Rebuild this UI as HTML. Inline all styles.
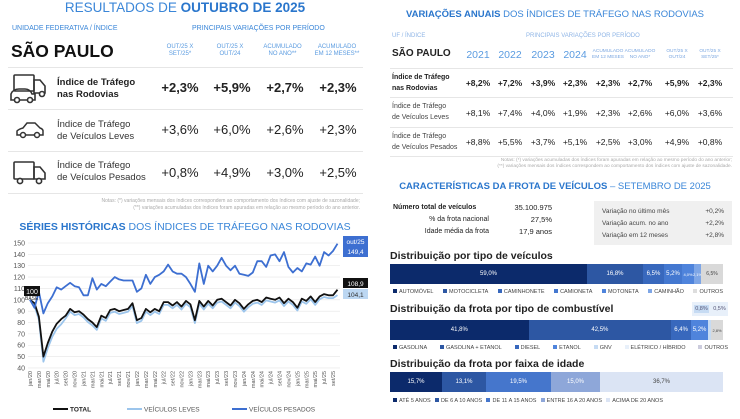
<!DOCTYPE html>
<html><head><meta charset="utf-8"><style>
*{margin:0;padding:0;box-sizing:border-box}
body{width:740px;height:419px;background:#fff;font-family:"Liberation Sans",sans-serif;position:relative;overflow:hidden;color:#222}
.a{position:absolute;white-space:nowrap}
.b{color:#3a86d8}
.sm{font-size:6px;color:#5a9be0;text-align:center;line-height:7px}
.hr{position:absolute;height:1px;background:#e6e6e6}
.v{position:absolute;font-size:13px;width:50px;text-align:center}
.rv{position:absolute;font-size:8.5px;width:32px;text-align:center}
.bar{position:absolute;height:20px;display:flex}
.bar div{height:100%;color:#fff;font-size:6px;display:flex;align-items:center;justify-content:center}
.lg{position:absolute;font-size:5.5px;color:#444;display:flex;justify-content:space-between}
.lg span:before{content:"";display:inline-block;width:4px;height:4px;margin-right:2px;background:var(--c)}
.t{font-size:10.5px;font-weight:bold;color:#222}
.yr{position:absolute;top:49px;width:34px;text-align:center;font-size:10.5px;color:#5a9be0}
.sh{position:absolute;top:49px;width:38px;text-align:center;font-size:4.8px;line-height:6px;color:#7aa6e0}
</style></head><body>
<!-- LEFT TOP -->
<div class="a b" style="left:0;width:370px;text-align:center;top:0;font-size:13.5px">RESULTADOS DE <b style="color:#2a76cc">OUTUBRO DE 2025</b></div>
<div class="a b" style="left:12px;top:25px;font-size:7px">UNIDADE FEDERATIVA / ÍNDICE</div>
<div class="a b" style="left:192px;top:25px;font-size:7px">PRINCIPAIS VARIAÇÕES POR PERÍODO</div>
<div class="a" style="left:11px;top:41px;font-size:17.5px;font-weight:bold;color:#111">SÃO PAULO</div>
<div class="a sm" style="left:155px;top:44px;width:50px">OUT/25 X<br>SET/25*</div>
<div class="a sm" style="left:205px;top:44px;width:50px">OUT/25 X<br>OUT/24</div>
<div class="a sm" style="left:255px;top:44px;width:55px">ACUMULADO<br>NO ANO**</div>
<div class="a sm" style="left:308px;top:44px;width:58px">ACUMULADO<br>EM 12 MESES**</div>
<div class="hr" style="left:8px;width:355px;top:67px"></div>
<div class="hr" style="left:8px;width:355px;top:109px"></div>
<div class="hr" style="left:8px;width:355px;top:151px"></div>
<div class="hr" style="left:8px;width:355px;top:193px"></div>
<svg class="a" style="left:8px;top:72px" width="42" height="32" viewBox="0 0 42 32" fill="none" stroke="#333" stroke-width="1.6"><rect x="6" y="3" width="20" height="16" rx="1"/><path d="M26 8h6l5 6v7h-11z"/><path d="M3 28v-6q2-5 8-5h6q5 0 7 5h3v6z"/><circle cx="9" cy="28" r="2.5" fill="#fff"/><circle cx="22" cy="28" r="2.5" fill="#fff"/><circle cx="34" cy="22" r="2.5" fill="#fff"/></svg>
<svg class="a" style="left:15px;top:120px" width="30" height="20" viewBox="0 0 30 20" fill="none" stroke="#333" stroke-width="1.5"><path d="M2 15v-4q2-2 6-3l4-5h8l5 5q3 1 3 3v4z"/><circle cx="8" cy="15" r="2.5" fill="#fff"/><circle cx="22" cy="15" r="2.5" fill="#fff"/></svg>
<svg class="a" style="left:12px;top:160px" width="36" height="26" viewBox="0 0 36 26" fill="none" stroke="#333" stroke-width="1.6"><rect x="2" y="2" width="20" height="17" rx="1"/><path d="M22 7h6l5 6v6h-11z"/><circle cx="8" cy="21" r="2.6" fill="#fff"/><circle cx="27" cy="21" r="2.6" fill="#fff"/></svg>
<div class="a" style="left:57px;top:77px;font-size:9.5px;font-weight:bold;line-height:12px">Índice de Tráfego<br>nas Rodovias</div>
<div class="a" style="left:57px;top:119px;font-size:9.5px;line-height:12px;color:#333">Índice de Tráfego<br>de Veículos Leves</div>
<div class="a" style="left:57px;top:160px;font-size:9.5px;line-height:12px;color:#333">Índice de Tráfego<br>de Veículos Pesados</div>
<div class="v" style="left:155px;top:80px;font-weight:bold">+2,3%</div><div class="v" style="left:207px;top:80px;font-weight:bold">+5,9%</div><div class="v" style="left:260px;top:80px;font-weight:bold">+2,7%</div><div class="v" style="left:313px;top:80px;font-weight:bold">+2,3%</div>
<div class="v" style="left:155px;top:122px">+3,6%</div><div class="v" style="left:207px;top:122px">+6,0%</div><div class="v" style="left:260px;top:122px">+2,6%</div><div class="v" style="left:313px;top:122px">+2,3%</div>
<div class="v" style="left:155px;top:165px">+0,8%</div><div class="v" style="left:207px;top:165px">+4,9%</div><div class="v" style="left:260px;top:165px">+3,0%</div><div class="v" style="left:313px;top:165px">+2,5%</div>
<div class="a" style="right:380px;top:198px;font-size:5px;color:#aaa;text-align:right;line-height:7px">Notas: (*) variações mensais dos índices correspondem ao comportamento dos índices com ajuste de sazonalidade;<br>(**) variações acumuladas dos índices foram apuradas em relação ao mesmo período do ano anterior.</div>
<!-- CHART -->
<div class="a b" style="left:0;width:370px;text-align:center;top:221px;font-size:10.5px"><b style="color:#2a76cc">SÉRIES HISTÓRICAS</b> DOS ÍNDICES DE TRÁFEGO NAS RODOVIAS</div>
<svg id="ch" class="a" style="left:0;top:230px" width="370" height="189"></svg>
<!-- RIGHT -->
<div class="a b" style="left:370px;width:370px;text-align:center;top:9px;font-size:9.5px"><b style="color:#2a76cc">VARIAÇÕES ANUAIS</b> DOS ÍNDICES DE TRÁFEGO NAS RODOVIAS</div>
<div class="a" style="left:392px;top:33px;font-size:6px;color:#8fb5e6">UF / ÍNDICE</div>
<div class="a" style="left:526px;top:33px;font-size:6px;color:#8fb5e6">PRINCIPAIS VARIAÇÕES POR PERÍODO</div>
<div class="a" style="left:392px;top:48px;font-size:10px;font-weight:bold;color:#222">SÃO PAULO</div>
<div class="yr" style="left:461px">2021</div><div class="yr" style="left:493px">2022</div><div class="yr" style="left:526px">2023</div><div class="yr" style="left:558px">2024</div>
<div class="sh" style="left:589px">ACUMULADO<br>EM 12 MESES</div><div class="sh" style="left:621px">ACUMULADO<br>NO ANO*</div><div class="sh" style="left:658px">OUT/25 X<br>OUT/24</div><div class="sh" style="left:691px">OUT/25 X<br>SET/25*</div>
<div class="hr" style="left:390px;width:343px;top:68px"></div><div class="hr" style="left:390px;width:343px;top:97px"></div><div class="hr" style="left:390px;width:343px;top:127px"></div><div class="hr" style="left:390px;width:343px;top:156px"></div>
<div class="a" style="left:392px;top:72px;font-size:7px;font-weight:bold;line-height:11px">Índice de Tráfego<br>nas Rodovias</div>
<div class="a" style="left:392px;top:101px;font-size:7px;line-height:11px;color:#444">Índice de Tráfego<br>de Veículos Leves</div>
<div class="a" style="left:392px;top:131px;font-size:7px;line-height:11px;color:#444">Índice de Tráfego<br>de Veículos Pesados</div>
<div id="rt"></div>
<div class="a" style="right:8px;top:158px;font-size:4.8px;color:#aaa;text-align:right;line-height:6px">Notas: (*) variações acumuladas dos índices foram apuradas em relação ao mesmo período do ano anterior;<br>(**) variações mensais dos índices correspondem ao comportamento dos índices com ajuste de sazonalidade.</div>
<div class="a b" style="left:370px;width:370px;text-align:center;top:181px;font-size:9.5px"><b style="color:#2a76cc">CARACTERÍSTICAS DA FROTA DE VEÍCULOS</b> – SETEMBRO DE 2025</div>
<div class="a" style="left:393px;top:204px;font-size:7px;font-weight:bold">Número total de veículos</div>
<div class="a" style="left:393px;top:216px;width:96px;text-align:right;font-size:7px">% da frota nacional</div>
<div class="a" style="left:393px;top:228px;width:96px;text-align:right;font-size:7px">Idade média da frota</div>
<div class="a" style="left:496px;top:203px;width:56px;text-align:right;font-size:7.5px">35.100.975</div>
<div class="a" style="left:496px;top:215px;width:56px;text-align:right;font-size:7.5px">27,5%</div>
<div class="a" style="left:496px;top:227px;width:56px;text-align:right;font-size:7.5px">17,9 anos</div>
<div class="a" style="left:594px;top:201px;width:138px;height:44px;background:#f0f0f0;font-size:6.5px;color:#444;padding:5px 8px;line-height:12px">Variação no último mês<span style="float:right">+0,2%</span><br>Variação acum. no ano<span style="float:right">+2,2%</span><br>Variação em 12 meses<span style="float:right">+2,8%</span></div>
<div class="a t" style="left:390px;top:250px">Distribuição por tipo de veículos</div>
<div class="bar" style="left:390px;top:264px;width:333px"><div style="width:197px;background:#0c2a6b">59,0%</div><div style="width:56px;background:#2d57a3">16,8%</div><div style="width:21px;background:#3868bd">6,5%</div><div style="width:18px;background:#4478d0">5,2%</div><div style="width:12px;background:#4f84dc;font-size:4px">4,0%</div><div style="width:7px;background:#7ea6e6;font-size:4px">2,1%</div><div style="width:22px;background:#d9d9d9;color:#444;font-size:5px">6,5%</div></div>
<div class="lg" style="left:393px;top:289px;width:330px"><span style="--c:#0c2a6b">AUTOMÓVEL</span><span style="--c:#2d57a3">MOTOCICLETA</span><span style="--c:#3868bd">CAMINHONETE</span><span style="--c:#4478d0">CAMIONETA</span><span style="--c:#4f84dc">MOTONETA</span><span style="--c:#7ea6e6">CAMINHÃO</span><span style="--c:#ddd">OUTROS</span></div>
<div class="a t" style="left:390px;top:303px">Distribuição da frota por tipo de combustível</div>
<div class="a" style="left:692px;top:302px;width:36px;height:14px;background:#e8f0fa;font-size:5.5px;color:#557;display:flex;align-items:center;justify-content:space-around"><span style="background:#c6dbf3;padding:1px">0,8%</span><span>0,5%</span></div>
<div class="bar" style="left:390px;top:320px;width:333px"><div style="width:139px;background:#0c2a6b">41,8%</div><div style="width:143px;background:#2d57a3">42,5%</div><div style="width:20px;background:#3868bd">6,4%</div><div style="width:17px;background:#4f84dc">5,2%</div><div style="width:3px;background:#c6dbf3"></div><div style="width:12px;background:#d9d9d9;color:#444;font-size:4px">2,8%</div></div>
<div class="lg" style="left:393px;top:345px;width:335px"><span style="--c:#0c2a6b">GASOLINA</span><span style="--c:#2d57a3">GASOLINA + ETANOL</span><span style="--c:#3868bd">DIESEL</span><span style="--c:#4f84dc">ETANOL</span><span style="--c:#c6dbf3">GNV</span><span style="--c:#e8f0fa">ELÉTRICO / HÍBRIDO</span><span style="--c:#ccd">OUTROS</span></div>
<div class="a t" style="left:390px;top:358px">Distribuição da frota por faixa de idade</div>
<div class="bar" style="left:390px;top:372px;width:333px"><div style="width:52px;background:#0c2a6b">15,7%</div><div style="width:44px;background:#2d57a3">13,1%</div><div style="width:65px;background:#4576cc">19,5%</div><div style="width:49px;background:#8ea7d9">15,0%</div><div style="width:123px;background:#dbe4f4;color:#444">36,7%</div></div>
<div class="lg" style="left:393px;top:398px;width:270px"><span style="--c:#0c2a6b">ATÉ 5 ANOS</span><span style="--c:#2d57a3">DE 6 A 10 ANOS</span><span style="--c:#4576cc">DE 11 A 15 ANOS</span><span style="--c:#8ea7d9">ENTRE 16 A 20 ANOS</span><span style="--c:#dbe4f4">ACIMA DE 20 ANOS</span></div>
<script>
var rows=[["+8,2%","+7,2%","+3,9%","+2,3%","+2,3%","+2,7%","+5,9%","+2,3%"],["+8,1%","+7,4%","+4,0%","+1,9%","+2,3%","+2,6%","+6,0%","+3,6%"],["+8,8%","+5,5%","+3,7%","+5,1%","+2,5%","+3,0%","+4,9%","+0,8%"]];
var xs=[478,510,543,575,608,640,677,710],ys=[78,108,137],h="";
rows.forEach(function(r,i){r.forEach(function(v,j){h+='<div class="rv" style="left:'+(xs[j]-16)+'px;top:'+ys[i]+'px;'+(i==0?'font-weight:bold':'')+'">'+v+'</div>'})});
document.getElementById('rt').innerHTML=h;
var T=[100,97,85,50,62,72,79,83,86,92,89,90,87,83,80,76,86,84,91,92,90,91,92,97,82,84,92,89,92,90,98,98,95,98,94,99,96,82,99,94,99,95,100,101,98,95,100,97,92,96,99,100,98,102,101,100,102,97,101,98,93,101,99,103,98,103,105,104,104,108.9];
var P=[100,93,107,88,97,103,111,109,112,115,112,111,104,104,119,109,114,112,116,120,118,117,117,117,107,110,122,114,120,122,125,131,125,123,123,120,114,107,132,114,130,125,130,137,130,126,130,123,122,121,124,134,134,129,139,140,134,142,129,124,128,125,132,131,138,130,142,139,143,149.4];
var L=T.map(function(v,i){return i==0?100:(i==69?104.1:v-2.5-(i>2&&i<8?2:0))});
var s='',X=function(i){return 30+i*4.456},Y=function(v){return 13+(150-v)*1.136};
for(var v=40;v<=150;v+=10){s+='<line x1="28" x2="340" y1="'+Y(v)+'" y2="'+Y(v)+'" stroke="#e6e6e6" stroke-width="0.6"/><text x="25" y="'+(Y(v)+2.5)+'" font-size="7" fill="#555" text-anchor="end">'+v+'</text>'}
var m=["jan","mar","mai","jul","set","nov"];
for(var i=0;i<70;i+=2){s+='<text transform="translate('+(X(i)+2)+',141) rotate(-90)" font-size="5.5" fill="#555" text-anchor="end">'+m[(i%12)/2]+'/'+(20+Math.floor(i/12))+'</text>'}
function pl(a,c,w){return '<polyline fill="none" stroke="'+c+'" stroke-width="'+w+'" stroke-linejoin="round" points="'+a.map(function(v,i){return X(i).toFixed(1)+','+Y(v).toFixed(1)}).join(' ')+'"/>'}
s+=pl(L,'#9cc5ec',1.8)+pl(T,'#111',1.8)+pl(P,'#3d6fd1',1.8);
s+='<text x="25" y="70" font-size="5" fill="#333">BASE</text><rect x="24" y="56" width="16" height="10" fill="#111"/><text x="32" y="64" font-size="7" fill="#fff" text-anchor="middle">100</text>';
s+='<rect x="343" y="6" width="25" height="21" fill="#3d6fd1"/><text x="355.5" y="14" font-size="6.5" fill="#fff" text-anchor="middle">out/25</text><text x="355.5" y="24" font-size="6.5" fill="#fff" text-anchor="middle">149,4</text>';
s+='<rect x="343" y="48" width="25" height="10" fill="#111"/><text x="355.5" y="56" font-size="6.5" fill="#fff" text-anchor="middle">108,9</text>';
s+='<rect x="343" y="59" width="25" height="10" fill="#bcd7f2"/><text x="355.5" y="67" font-size="6.5" fill="#333" text-anchor="middle">104,1</text>';
s+='<line x1="53" x2="68" y1="179" y2="179" stroke="#111" stroke-width="2"/><text x="70" y="181.5" font-size="6.5" font-weight="bold" fill="#222">TOTAL</text>';
s+='<line x1="127" x2="142" y1="179" y2="179" stroke="#9cc5ec" stroke-width="2"/><text x="144" y="181.5" font-size="6.5" fill="#555">VEÍCULOS LEVES</text>';
s+='<line x1="232" x2="247" y1="179" y2="179" stroke="#3d6fd1" stroke-width="2"/><text x="249" y="181.5" font-size="6.5" fill="#555">VEÍCULOS PESADOS</text>';
document.getElementById('ch').innerHTML=s;
</script>
</body></html>
